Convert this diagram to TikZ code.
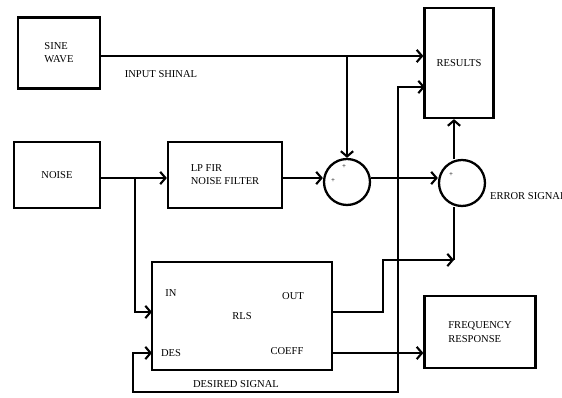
\documentclass[tikz,border=0pt]{standalone}
\usepackage{fontspec}
\setmainfont{Liberation Serif}
\usetikzlibrary{arrows.meta}
\begin{document}
\begin{tikzpicture}[x=0.02cm, y=-0.02cm,
        font=\fontsize{6}{7.5}\selectfont,
        block/.style={rectangle, draw=black, line width=1.3pt, align=left},
        sum/.style={circle, draw=black, line width=1.3pt, minimum size=0.92cm, inner sep=0pt},
        lbl/.style={inner sep=1pt},
        sign/.style={inner sep=0pt, font=\fontsize{4}{4}\selectfont},
        arrow/.style={line width=1.2pt, -{Straight Barb[length=3pt,width=7pt]}},
        dblarrow/.style={line width=1.2pt, {Straight Barb[length=3pt,width=7pt]}-{Straight Barb[length=3pt,width=7pt]}},
        wire/.style={line width=1.2pt}
    ]
        \useasboundingbox (0,0) rectangle (562,398);
        \clip (0,0) rectangle (562,398);

        \node[block, minimum width=1.64cm, minimum height=1.42cm] (sine) at (59,53) {SINE\\WAVE};
        \node[block, minimum width=1.72cm, minimum height=1.32cm] (noise) at (57,175) {NOISE};
        \node[block, minimum width=2.28cm, minimum height=1.32cm] (lpfir) at (225,175) {LP FIR\\NOISE FILTER};
        \node[sum] (sum1) at (347,182) {};
        \node[sum] (sum2) at (462,183) {};
        \node[block, minimum width=1.38cm, minimum height=2.2cm, align=center] (results) at (459,63) {RESULTS};
        \node[block, minimum width=3.6cm, minimum height=2.16cm, align=center] (rls) at (242,316) {RLS};
        \node[block, minimum width=2.22cm, minimum height=1.44cm] (freq) at (480,332) {FREQUENCY\\RESPONSE};

        % port labels of the RLS block
        \node[lbl] (in) at (171,293) {IN};
        \node[lbl] (out) at (293,296) {OUT};
        \node[lbl] (des) at (171,353) {DES};
        \node[lbl] (coeff) at (287,351) {COEFF};

        % signs
        \node[sign] (s1a) at (344,167) {+};
        \node[sign] (s1b) at (333,181) {+};
        \node[sign] (s2a) at (451,175) {+};

        % signal labels
        \node[lbl] (inlbl) at (161,74) {INPUT SHINAL};
        \node[lbl] (deslbl) at (236,384) {DESIRED SIGNAL};
        \node[lbl, anchor=west] (errlbl) at (488,196) {ERROR SIGNAL};

        \coordinate (tap) at (347,56);
        \coordinate (br) at (135,178);
        \coordinate (inport) at (152,312);
        \coordinate (desport) at (152,353);
        \coordinate (outport) at (332,312);
        \coordinate (cfport) at (332,353);
        \coordinate (errin) at (454,260);
        \coordinate (resin) at (425,87);

        \draw[arrow] (sine.east |- tap) -- (results.west |- tap);
        \draw[arrow] (tap) -- (sum1.north);
        \draw[arrow] (noise.east |- br) -- (lpfir.west |- br);
        \draw[arrow] (br) |- (inport);
        \draw[arrow] (lpfir.east |- br) -- (sum1.west |- br);
        \draw[arrow] (sum1.east |- br) -- (sum2.west |- br);
        \draw[arrow] (sum2.north -| errin) -- (results.south -| errin);
        \draw[arrow] (outport) -- ++(51,0) |- (errin);
        \draw[wire] (errin) -- (sum2.south -| errin);
        \draw[arrow] (cfport) -- (cfport -| freq.west);
        \draw[dblarrow] (desport) -- ++(-19,0) |- (398,392) |- (resin);
    \end{tikzpicture}
\end{document}
